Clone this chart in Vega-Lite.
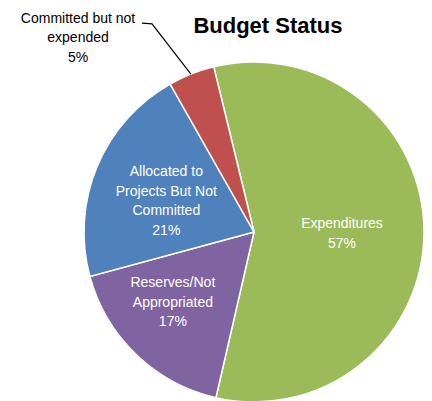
{
  "$schema": "https://vega.github.io/schema/vega-lite/v6.json",
  "width": 340,
  "height": 340,
  "autosize": {"type": "none"},
  "padding": {"left": 84, "top": 62, "right": 8, "bottom": 0},
  "background": "white",
  "config": {"view": {"stroke": null}},
  "datasets": {
    "slices": [
      {"seq": 1, "category": "Expenditures", "value": 57.4, "label": "Expenditures\n57%"},
      {"seq": 2, "category": "Reserves/Not Appropriated", "value": 17.2, "label": "Reserves/Not\nAppropriated\n17%"},
      {"seq": 3, "category": "Allocated to Projects But Not Committed", "value": 21.0, "label": "Allocated to\nProjects But Not\nCommitted\n21%"},
      {"seq": 4, "category": "Committed but not expended", "value": 4.4, "label": ""}
    ],
    "leader": [
      {"px": -0.371, "py": 0.929, "k": 0},
      {"px": -0.6, "py": 1.224, "k": 1},
      {"px": -0.659, "py": 1.229, "k": 2}
    ],
    "outside": [
      {"px": -1.035, "py": 1.253, "label": "Committed but not\nexpended\n5%"}
    ],
    "heading": [
      {"px": 0.082, "py": 1.171, "label": "Budget Status"}
    ]
  },
  "layer": [
    {
      "data": {"name": "slices"},
      "mark": {"type": "arc", "radius": 170, "stroke": "white", "strokeWidth": 1.5},
      "encoding": {
        "theta": {"field": "value", "type": "quantitative", "stack": true, "scale": {"range": [-0.239, 6.044]}},
        "order": {"field": "seq", "type": "quantitative"},
        "color": {
          "field": "category",
          "type": "nominal",
          "scale": {
            "domain": ["Expenditures", "Reserves/Not Appropriated", "Allocated to Projects But Not Committed", "Committed but not expended"],
            "range": ["#9BBB59", "#8064A2", "#4F81BD", "#C0504D"]
          },
          "legend": null
        }
      }
    },
    {
      "data": {"name": "slices"},
      "mark": {"type": "text", "radius": 88, "dy": -7, "color": "white", "font": "Liberation Sans", "fontSize": 14, "lineHeight": 19.5, "lineBreak": "\n", "align": "center", "baseline": "middle"},
      "encoding": {
        "theta": {"field": "value", "type": "quantitative", "stack": true},
        "order": {"field": "seq", "type": "quantitative"},
        "detail": {"field": "category", "type": "nominal"},
        "text": {"condition": {"test": "datum.seq == 1", "field": "label"}, "value": ""}
      }
    },
    {
      "data": {"name": "slices"},
      "mark": {"type": "text", "radius": 117, "dy": -33, "color": "white", "font": "Liberation Sans", "fontSize": 14, "lineHeight": 19.5, "lineBreak": "\n", "align": "center", "baseline": "middle"},
      "encoding": {
        "theta": {"field": "value", "type": "quantitative", "stack": true},
        "order": {"field": "seq", "type": "quantitative"},
        "detail": {"field": "category", "type": "nominal"},
        "text": {"condition": {"test": "datum.seq == 2", "field": "label"}, "value": ""}
      }
    },
    {
      "data": {"name": "slices"},
      "mark": {"type": "text", "radius": 95, "dy": -23, "color": "white", "font": "Liberation Sans", "fontSize": 14, "lineHeight": 19.5, "lineBreak": "\n", "align": "center", "baseline": "middle"},
      "encoding": {
        "theta": {"field": "value", "type": "quantitative", "stack": true},
        "order": {"field": "seq", "type": "quantitative"},
        "detail": {"field": "category", "type": "nominal"},
        "text": {"condition": {"test": "datum.seq == 3", "field": "label"}, "value": ""}
      }
    },
    {
      "data": {"name": "leader"},
      "mark": {"type": "line", "color": "black", "strokeWidth": 1.2},
      "encoding": {
        "x": {"field": "px", "type": "quantitative", "scale": {"domain": [-1, 1]}, "axis": null},
        "y": {"field": "py", "type": "quantitative", "scale": {"domain": [-1, 1]}, "axis": null},
        "order": {"field": "k"}
      }
    },
    {
      "data": {"name": "outside"},
      "mark": {"type": "text", "color": "black", "font": "Liberation Sans", "fontSize": 14, "lineHeight": 19.5, "lineBreak": "\n", "align": "center", "baseline": "middle"},
      "encoding": {
        "x": {"field": "px", "type": "quantitative", "scale": {"domain": [-1, 1]}, "axis": null},
        "y": {"field": "py", "type": "quantitative", "scale": {"domain": [-1, 1]}, "axis": null},
        "text": {"field": "label", "type": "nominal"}
      }
    },
    {
      "data": {"name": "heading"},
      "mark": {"type": "text", "color": "black", "font": "Liberation Sans", "fontSize": 22, "fontWeight": "bold", "align": "center", "baseline": "alphabetic"},
      "encoding": {
        "x": {"field": "px", "type": "quantitative", "scale": {"domain": [-1, 1]}, "axis": null},
        "y": {"field": "py", "type": "quantitative", "scale": {"domain": [-1, 1]}, "axis": null},
        "text": {"field": "label", "type": "nominal"}
      }
    }
  ]
}
